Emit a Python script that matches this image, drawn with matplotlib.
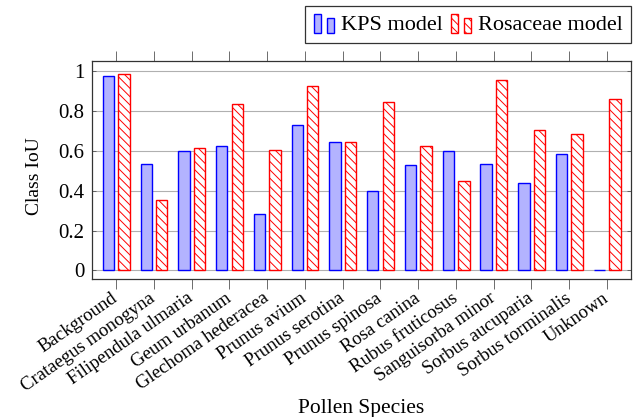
import numpy as np
import matplotlib.pyplot as plt
import matplotlib.transforms as mtransforms
from matplotlib.patches import Rectangle
from matplotlib.legend_handler import HandlerBase

plt.rcParams['font.family'] = ['Liberation Serif', 'DejaVu Serif']
plt.rcParams['hatch.linewidth'] = 0.7
plt.rcParams['hatch.color'] = 'red'

# class IoU per pollen species
species = ['Background', 'Crataegus monogyna', 'Filipendula ulmaria', 'Geum urbanum',
           'Glechoma hederacea', 'Prunus avium', 'Prunus serotina', 'Prunus spinosa',
           'Rosa canina', 'Rubus fruticosus', 'Sanguisorba minor', 'Sorbus aucuparia',
           'Sorbus torminalis', 'Unknown']
kps_iou = [0.976, 0.533, 0.600, 0.625, 0.284, 0.732, 0.643, 0.401,
           0.530, 0.600, 0.535, 0.439, 0.583, 0.003]
rosaceae_iou = [0.987, 0.351, 0.613, 0.835, 0.605, 0.927, 0.643, 0.847,
                0.627, 0.448, 0.956, 0.703, 0.687, 0.860]
yticks = [0, 0.2, 0.4, 0.6, 0.8, 1]
ytick_labels = ['0', '0.2', '0.4', '0.6', '0.8', '1']


class TwoBarHandler(HandlerBase):
    # little two-bar icon like the pgfplots ybar legend
    def create_artists(self, legend, orig, xd, yd, w, h, fontsize, trans):
        bw = w * 0.33
        kw = dict(facecolor=orig.get_facecolor(), edgecolor=orig.get_edgecolor(),
                  hatch=orig.get_hatch(), lw=orig.get_linewidth(), transform=trans)
        r1 = Rectangle((xd, yd - h * 0.2), bw, h * 1.25, **kw)
        r2 = Rectangle((xd + w * 0.62, yd - h * 0.2), bw, h * 0.95, **kw)
        return [r1, r2]


x = np.arange(len(species))
fig = plt.figure(figsize=(6.35, 4.17), dpi=100)
ax = fig.add_axes([0.1444, 0.3302, 0.9942 - 0.1444, 0.8549 - 0.3302])

b1 = ax.bar(x - 0.2, kps_iou, width=0.3, color='#b3b3ff', edgecolor='blue',
            linewidth=1.0, label='KPS model', zorder=3)
b2 = ax.bar(x + 0.21, rosaceae_iou, width=0.3, color='white', edgecolor='red',
            hatch='\\\\\\\\', linewidth=1.0, label='Rosaceae model', zorder=3)

ax.set_xlim(-0.645, 13.645)
ax.set_ylim(-0.045, 1.054)
ax.set_yticks(yticks)
ax.set_yticklabels(ytick_labels, fontsize=15)
ax.set_xticks(x)
ax.set_xticklabels(species, rotation=35, ha='right', va='center', rotation_mode='anchor',
                   fontsize=13.5)
# nudge the rotated labels a little left of their ticks
shift = mtransforms.ScaledTranslation(-2 / 100, 0, fig.dpi_scale_trans)
for lab in ax.get_xticklabels():
    lab.set_transform(lab.get_transform() + shift)
ax.tick_params(axis='x', direction='out', top=True, length=7, width=0.6, color='#555555',
               pad=5.5)
ax.tick_params(axis='y', direction='in', right=True, length=3, width=0.6, color='#555555',
               pad=5)
ax.yaxis.grid(True, color='#b0b0b0', linewidth=0.8, zorder=0)
for s in ax.spines.values():
    s.set_color('#333333')
    s.set_linewidth(0.9)

ax.set_ylabel('Class IoU', fontsize=14)
ax.yaxis.set_label_coords(-0.09, 0.47)
ax.set_xlabel('Pollen Species', fontsize=15.5)
ax.xaxis.label.set_va('baseline')
ax.xaxis.set_label_coords(0.5, -0.611)

leg = ax.legend(handles=[b1[0], b2[0]], labels=['KPS model', 'Rosaceae model'],
                handler_map={b1[0]: TwoBarHandler(), b2[0]: TwoBarHandler()},
                loc='lower right', bbox_to_anchor=(1.0, 1.078), ncol=2, fontsize=16,
                frameon=True, fancybox=False, edgecolor='#333333', framealpha=1,
                handlelength=0.95, handleheight=0.7, handletextpad=0.25, columnspacing=0.4,
                borderpad=0.38, borderaxespad=0)
leg.get_frame().set_linewidth(0.9)

plt.savefig('out.png')
